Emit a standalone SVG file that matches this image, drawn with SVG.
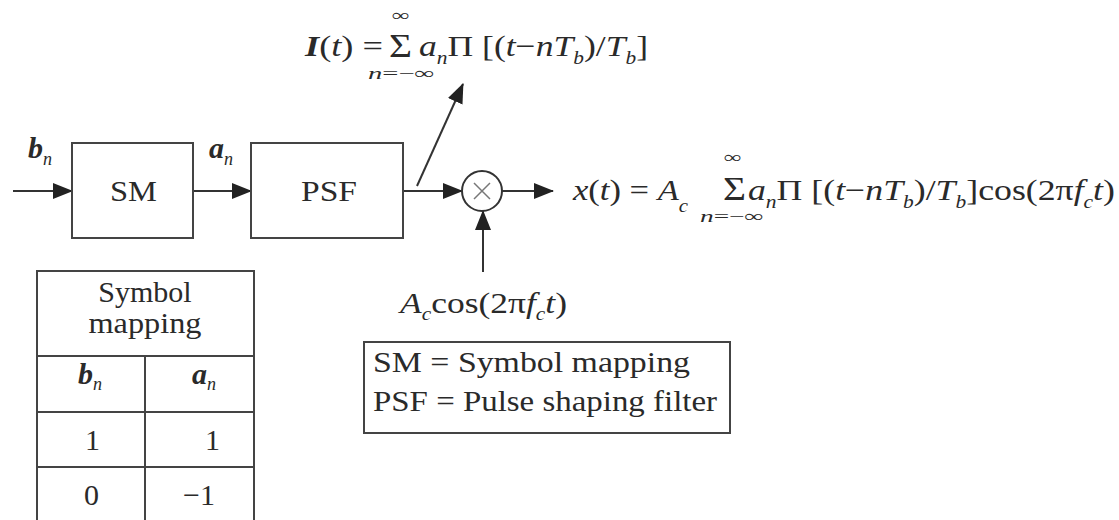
<svg xmlns="http://www.w3.org/2000/svg" width="1119" height="520" viewBox="0 0 1119 520">
<defs>
<style>
.t{font-family:"Liberation Serif","Times New Roman",serif;font-size:30px;fill:#2a2a2a}
.i{font-style:italic}
.bi{font-style:italic;font-weight:bold}
.s{font-size:18px}
.sig{font-family:"Liberation Serif","Times New Roman",serif;font-size:34px;fill:#2a2a2a}
.lim{font-family:"Liberation Serif","Times New Roman",serif;font-size:17px;fill:#2a2a2a}
.box{fill:#fff;stroke:#444;stroke-width:2}
.ln{fill:none;stroke:#333;stroke-width:2}
.tb{fill:none;stroke:#444;stroke-width:2}
</style>
<marker id="ah" markerUnits="userSpaceOnUse" markerWidth="20" markerHeight="16" refX="19" refY="8" orient="auto">
<path d="M0,0 L20,8 L0,16 Z" fill="#222"/>
</marker>
</defs>
<rect width="1119" height="520" fill="#fff"/>

<g id="connectors">
<line class="ln" x1="13" y1="191" x2="72" y2="191" marker-end="url(#ah)"/>
<line class="ln" x1="193" y1="191" x2="251" y2="191" marker-end="url(#ah)"/>
<line class="ln" x1="403" y1="191" x2="462" y2="191" marker-end="url(#ah)"/>
<line class="ln" x1="502" y1="191" x2="553" y2="191" marker-end="url(#ah)"/>
<line class="ln" x1="483" y1="272" x2="483" y2="211" marker-end="url(#ah)"/>
<line class="ln" x1="417" y1="186" x2="463" y2="84" marker-end="url(#ah)"/>
</g>

<g id="sm">
<rect class="box" x="72" y="143" width="121" height="95"/>
<text class="t" x="110" y="201" textLength="47" lengthAdjust="spacingAndGlyphs">SM</text>
</g>

<g id="psf">
<rect class="box" x="251" y="143" width="152" height="95"/>
<text class="t" x="301" y="201" textLength="56" lengthAdjust="spacingAndGlyphs">PSF</text>
</g>

<g id="mixer">
<circle cx="482" cy="191" r="20" fill="#fff" stroke="#333" stroke-width="2"/>
<path d="M474,183 L490,199 M490,183 L474,199" stroke="#777" stroke-width="1.5" fill="none"/>
</g>

<g id="label-bn">
<text class="t" x="28" y="158" font-size="28"><tspan class="bi">b</tspan><tspan class="i s" dy="7">n</tspan></text>
</g>
<g id="label-an">
<text class="t" x="209" y="158" font-size="28"><tspan class="bi">a</tspan><tspan class="i s" dy="7">n</tspan></text>
</g>

<g id="formula-I">
<text class="t" x="305" y="56" textLength="78" lengthAdjust="spacingAndGlyphs"><tspan class="bi">I</tspan>(<tspan class="i">t</tspan>) =</text>
<text class="sig" x="389" y="57" textLength="23" lengthAdjust="spacingAndGlyphs">Σ</text>
<text class="lim" x="392" y="21" textLength="18" lengthAdjust="spacingAndGlyphs">∞</text>
<text class="lim" x="368" y="79" textLength="67" lengthAdjust="spacingAndGlyphs"><tspan class="i">n</tspan>=−∞</text>
<text class="t" x="419" y="56" textLength="229" lengthAdjust="spacingAndGlyphs"><tspan class="i">a</tspan><tspan class="i s" dy="8">n</tspan><tspan dy="-8">Π [(</tspan><tspan class="i">t</tspan>−<tspan class="i">nT</tspan><tspan class="i s" dy="8">b</tspan><tspan dy="-8">)/</tspan><tspan class="i">T</tspan><tspan class="i s" dy="8">b</tspan><tspan dy="-8">]</tspan></text>
</g>

<g id="formula-x">
<text class="t" x="573" y="200" textLength="115" lengthAdjust="spacingAndGlyphs"><tspan class="i">x</tspan>(<tspan class="i">t</tspan>) = <tspan class="i">A</tspan><tspan class="i s" dy="12">c</tspan></text>
<text class="sig" x="723" y="200" textLength="23" lengthAdjust="spacingAndGlyphs">Σ</text>
<text class="lim" x="724" y="163" textLength="18" lengthAdjust="spacingAndGlyphs">∞</text>
<text class="lim" x="700" y="222" textLength="64" lengthAdjust="spacingAndGlyphs"><tspan class="i">n</tspan>=−∞</text>
<text class="t" x="748" y="200" textLength="367" lengthAdjust="spacingAndGlyphs"><tspan class="i">a</tspan><tspan class="i s" dy="8">n</tspan><tspan dy="-8">Π [(</tspan><tspan class="i">t</tspan>−<tspan class="i">nT</tspan><tspan class="i s" dy="8">b</tspan><tspan dy="-8">)/</tspan><tspan class="i">T</tspan><tspan class="i s" dy="8">b</tspan><tspan dy="-8">]cos(2π</tspan><tspan class="i">f</tspan><tspan class="i s" dy="8">c</tspan><tspan class="i" dy="-8">t</tspan>)</text>
</g>

<g id="carrier">
<text class="t" x="400" y="313" textLength="167" lengthAdjust="spacingAndGlyphs"><tspan class="i">A</tspan><tspan class="i s" dy="7">c</tspan><tspan dy="-7">cos(2π</tspan><tspan class="i">f</tspan><tspan class="i s" dy="7">c</tspan><tspan class="i" dy="-7">t</tspan>)</text>
</g>

<g id="legend">
<rect class="box" x="364" y="342" width="366" height="91"/>
<text class="t" x="373" y="372" textLength="317" lengthAdjust="spacingAndGlyphs">SM = Symbol mapping</text>
<text class="t" x="373" y="411" textLength="344" lengthAdjust="spacingAndGlyphs">PSF = Pulse shaping filter</text>
</g>

<g id="table">
<path class="tb" d="M37,530 L37,271 L254,271 L254,530 M37,356 L254,356 M145,356 L145,530 M37,412 L254,412 M37,467 L254,467"/>
<text class="t" x="145" y="302" text-anchor="middle">Symbol</text>
<text class="t" x="145" y="333" text-anchor="middle" textLength="113" lengthAdjust="spacingAndGlyphs">mapping</text>
<text class="t" x="78" y="384"><tspan class="bi">b</tspan><tspan class="i s" dy="6">n</tspan></text>
<text class="t" x="192" y="384"><tspan class="bi">a</tspan><tspan class="i s" dy="6">n</tspan></text>
<text class="t" x="85" y="450">1</text>
<text class="t" x="205" y="450">1</text>
<text class="t" x="84" y="505">0</text>
<text class="t" x="183" y="505">−1</text>
</g>
</svg>
